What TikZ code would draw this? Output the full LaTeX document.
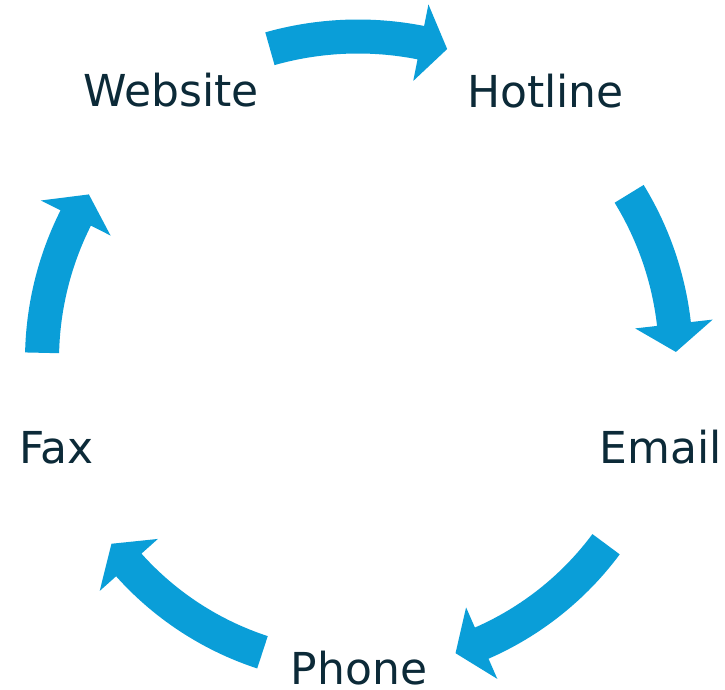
\documentclass[tikz,border=0pt]{standalone}
\usepackage{fontspec}
\setmainfont{DejaVu Sans}
\usetikzlibrary{calc}
\definecolor{arrowblue}{RGB}{10,158,216}
\definecolor{labeltext}{RGB}{12,42,56}
\newcommand\cycarrow[4]{% start angle, head-base angle, tip angle, radius
  \fill[arrowblue] ($(C)+({#1}:{#4+17})$) arc[start angle={#1}, end angle={#2}, radius={#4+17}]
    -- ($(C)+({#2}:{#4+39})$) -- ($(C)+({#3}:{#4})$) -- ($(C)+({#2}:{#4-39})$)
    -- ($(C)+({#2}:{#4-17})$) arc[start angle={#2}, end angle={#1}, radius={#4-17}] -- cycle;}
\begin{document}
\begin{tikzpicture}[x=1pt,y=1pt,
  lbl/.style={font=\fontsize{44}{44}\selectfont, text=labeltext, inner sep=0pt, anchor=base}]
\useasboundingbox[fill=white] (0,0) rectangle (725,690);
\coordinate (C) at (358,330);
\node[lbl] (website) at (171,583) {Website};
\node[lbl] (hotline) at (545.5,582) {Hotline};
\node[lbl] (email) at (661,226) {Email};
\node[lbl] (phone) at (359,5) {Phone};
\node[lbl] (fax) at (56.5,226) {Fax};
\cycarrow{105.8}{78.8}{74.0}{323.5}
\cycarrow{31.5}{6.5}{1.45}{318}
\cycarrow{-36.6}{-66.4}{-71.6}{309}
\cycarrow{251.9}{221.8}{216.7}{307.5}
\cycarrow{178.7}{153.3}{148.4}{316}
\end{tikzpicture}
\end{document}
